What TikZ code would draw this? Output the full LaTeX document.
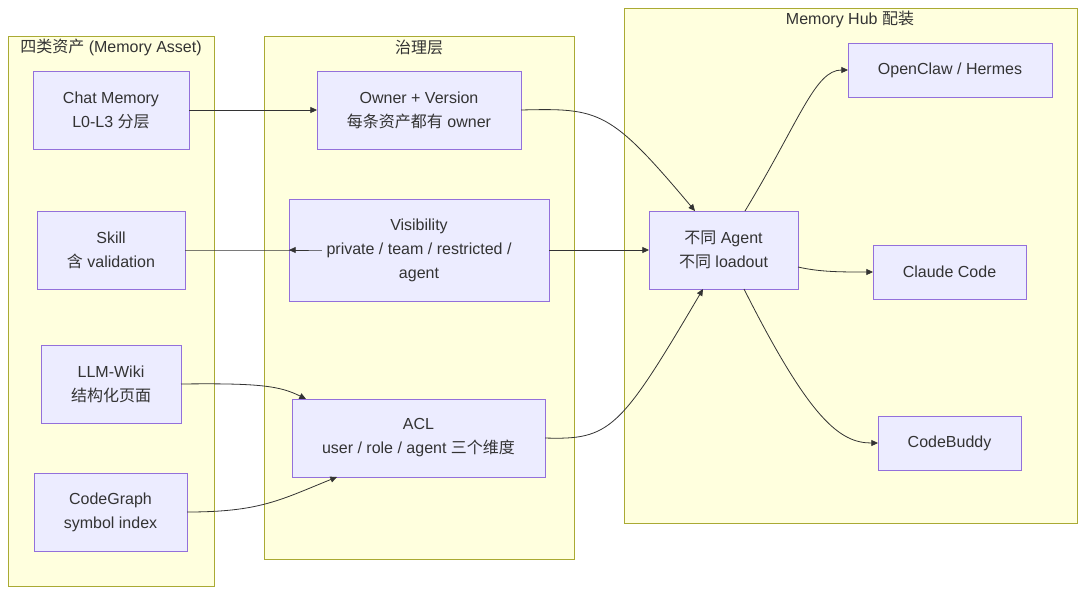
\documentclass[tikz,border=0pt]{standalone}
\usepackage{fontspec}
\setmainfont{Liberation Sans}
\newfontfamily\cjk{Noto Sans CJK SC}
\usetikzlibrary{arrows.meta}
\definecolor{cf}{HTML}{FFFFDE}\definecolor{cs}{HTML}{AAAA33}
\definecolor{nf}{HTML}{ECECFF}\definecolor{ns}{HTML}{9370DB}
\definecolor{tx}{HTML}{333333}
\begin{document}
\begin{tikzpicture}[x=0.75pt,y=-0.75pt,
 clus/.style={fill=cf,draw=cs,line width=0.75pt},
 box/.style={fill=nf,draw=ns,line width=0.75pt},
 lab/.style={text=tx,font=\fontsize{12}{18}\selectfont,align=center},
 con/.style={draw=tx,line width=0.6pt,-{Triangle[length=5pt,width=4.5pt]}}]
\useasboundingbox (0,0) rectangle (1085,594);
\fill[white] (0,0) rectangle (1085,594);
\draw[clus] (8,36) rectangle (214,586);
\draw[clus] (264,36) rectangle (574,559);
\draw[clus] (624,8) rectangle (1077,523);
\node[lab] (t1) at (111,47) {{\cjk 四类资产} (Memory Asset)};
\node[lab] (t2) at (419,47) {\cjk 治理层};
\node[lab] (t3) at (850,19) {Memory Hub {\cjk 配装}};
\newcommand{\bx}[6]{\draw[box] (#2,#3) rectangle (#4,#5);
 \node[lab] (#1) at ({(#2+#4)/2},{(#3+#5)/2}) {#6};
 \coordinate (#1w) at (#2,{(#3+#5)/2});}
\bx{cm}{33}{71}{189}{149}{Chat Memory\\L0-L3 {\cjk 分层}}
\bx{sk}{37}{211}{185}{289}{Skill\\{\cjk 含} validation}
\bx{wk}{41}{345}{181}{423}{LLM-Wiki\\{\cjk 结构化页面}}
\bx{cg}{34}{473}{187}{551}{CodeGraph\\symbol index}
\bx{ow}{317}{71}{521}{149}{Owner + Version\\{\cjk 每条资产都有} owner}
\bx{vi}{289}{199}{549}{301}{Visibility\\private / team / restricted /\\agent}
\bx{acl}{292}{399}{545}{477}{ACL\\user / role / agent {\cjk 三个维度}}
\bx{ag}{649}{211}{798}{289}{{\cjk 不同} Agent\\{\cjk 不同} loadout}
\bx{oc}{848}{43}{1052}{97}{OpenClaw / Hermes}
\bx{cc}{873}{245}{1026}{299}{Claude Code}
\bx{cb}{878}{416}{1021}{470}{CodeBuddy}
\draw[con] (189,110) -- (oww);
\draw[con] (185,250) -- (vi.west|-0,250) -- (289,250);
\draw[con] (181,384) .. controls (260,383) and (280,386) .. (306,399);
\draw[con] (187,512) .. controls (260,512) and (280,500) .. (337,477);
\draw[con] (521,110) .. controls (600,108) and (610,110) .. (695,211);
\draw[con] (549,250) -- (649,250);
\draw[con] (545,438) .. controls (610,440) and (620,430) .. (703,289);
\draw[con] (745,211) .. controls (800,120) and (815,70) .. (848,70);
\draw[con] (798,267) .. controls (820,272) and (840,272) .. (873,272);
\draw[con] (744,289) .. controls (810,420) and (840,443) .. (878,443);
\end{tikzpicture}
\end{document}
